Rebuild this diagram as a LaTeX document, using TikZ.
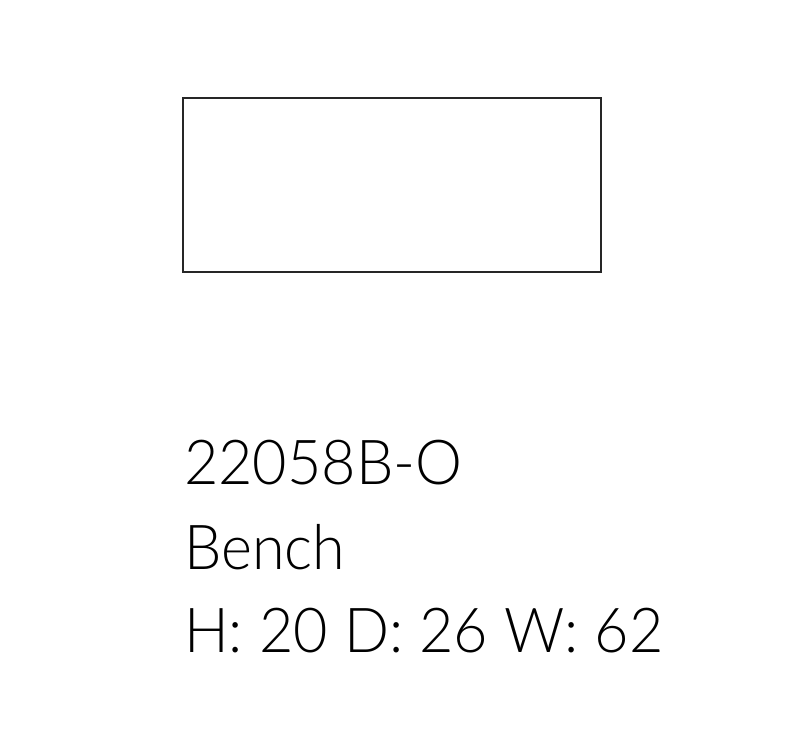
\documentclass[tikz,border=0pt]{standalone}
\usepackage{fontspec}
\setmainfont{Lato}[UprightFont=* Light, FakeStretch=0.956]
\usetikzlibrary{positioning}

\begin{document}
\begin{tikzpicture}[x=1pt, y=1pt, outline/.style={draw=black!85, line width=1.6pt, minimum width=418pt, minimum height=174pt, inner sep=0pt}, label text/.style={anchor=base west, inner sep=0pt, text=black, font=\fontsize{62}{74}\selectfont}]
\useasboundingbox (0,0) rectangle (798,742);
\node[outline] (bench) at (392,557) {};
\node[label text] (code) at (184,257) {22058B-O};
\node[label text] (name) at (184,172) {Bench};
\node[label text] (size) at (184,89) {H: 20 D: 26 W: 62};
\end{tikzpicture}
\end{document}
